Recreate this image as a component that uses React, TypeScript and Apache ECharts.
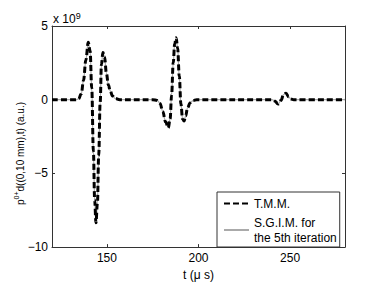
import React, { useEffect, useRef } from "react";
import * as echarts from "echarts";

// time in microseconds
const times = [
  120, 133, 134.5, 136, 137.2, 138.5, 139.8, 140.8, 141.7, 142.6, 143.3, 144, 144.8, 145.5, 146.3, 147, 147.8, 148.7, 149.7, 150.8, 151.8, 153, 154.5, 157,
  175, 177.5, 179, 180.5, 182, 183.5, 184.5, 185.3, 186.2, 187, 187.8, 188.6, 189.5, 190.4, 191.3, 192.1, 193, 194, 195.5, 197, 199,
  238, 240.2, 241.5, 243.5, 245, 246.5, 247.8, 249.2, 250.5, 252, 280,
];
// values in units of 1e9 (a.u.)
const tmmValues = [
  0, 0, 0.05, 0.4, 1.3, 2.7, 3.9, 3.3, 0.8, -3.5, -6.8, -8.35, -7.0, -3.8, -0.2, 2.4, 3.2, 2.9, 1.8, 1.0, 0.6, 0.25, 0.08, 0,
  0, -0.05, -0.25, -0.8, -1.5, -1.9, -1.3, 0.3, 2.5, 3.8, 4.2, 3.5, 1.6, -0.3, -1.3, -1.45, -1.1, -0.55, -0.2, -0.06, 0,
  0, 0, -0.08, -0.29, -0.05, 0.35, 0.44, 0.2, 0.04, 0, 0,
];
const sgimValues = [
  0, 0, 0.05, 0.4, 1.3, 2.7, 3.9, 3.3, 0.8, -3.5, -6.8, -8.35, -7.0, -3.8, -0.2, 2.4, 3.2, 2.9, 1.8, 1.0, 0.6, 0.25, 0.08, 0,
  0, -0.05, -0.25, -0.8, -1.5, -1.9, -1.3, 0.3, 2.5, 3.8, 4.2, 3.5, 1.6, -0.3, -1.3, -1.45, -1.1, -0.55, -0.2, -0.06, 0,
  0, 0, -0.08, -0.29, -0.05, 0.35, 0.44, 0.2, 0.04, 0, 0,
];
const xTicks = [150, 200, 250];
const seriesNames = ["T.M.M.", "S.G.I.M. for\nthe 5th iteration"];

const FONT = "'Liberation Sans', Arial, Helvetica, sans-serif";
const AXIS_COLOR = "#333";

export default function App() {
  const ref = useRef<HTMLDivElement>(null);
  useEffect(() => {
    if (!ref.current) return;
    const chart = echarts.init(ref.current, undefined, { renderer: "svg" });
    const tmm = times.map((t, i) => [t, tmmValues[i]]);
    const sgim = times.map((t, i) => [t, sgimValues[i]]);
    const axisLine = { show: true, onZero: false, lineStyle: { color: AXIS_COLOR, width: 1 } };
    const fmtMinus = (v: number) => String(v).replace("-", "\u2212");
    chart.setOption({
      animation: false,
      textStyle: { fontFamily: FONT },
      grid: { left: 52, top: 26, right: 37, bottom: 33 },
      xAxis: [
        {
          type: "value",
          min: 120,
          max: 280,
          axisLine,
          axisTick: { show: true, inside: true, length: 3, customValues: xTicks, lineStyle: { color: AXIS_COLOR } },
          axisLabel: { customValues: xTicks, color: "#000", fontSize: 12, margin: 5, fontFamily: FONT },
          splitLine: { show: false },
          name: "t (\u03bc s)",
          nameLocation: "middle",
          nameGap: 20,
          nameTextStyle: { color: "#000", fontSize: 12, fontFamily: FONT },
        },
        {
          type: "value",
          position: "top",
          min: 120,
          max: 280,
          axisLine,
          axisTick: { show: true, inside: true, length: 3, customValues: xTicks, lineStyle: { color: AXIS_COLOR } },
          axisLabel: { show: false },
          splitLine: { show: false },
        },
      ],
      yAxis: [
        {
          type: "value",
          min: -10,
          max: 5,
          interval: 5,
          axisLine,
          axisTick: { show: true, inside: true, length: 3, lineStyle: { color: AXIS_COLOR } },
          axisLabel: { color: "#000", fontSize: 12, margin: 4, fontFamily: FONT, formatter: fmtMinus },
          splitLine: { show: false },
        },
        {
          type: "value",
          position: "right",
          min: -10,
          max: 5,
          interval: 5,
          axisLine,
          axisTick: { show: true, inside: true, length: 3, lineStyle: { color: AXIS_COLOR } },
          axisLabel: { show: false },
          splitLine: { show: false },
        },
      ],
      legend: {
        data: seriesNames,
        orient: "vertical",
        left: 217,
        top: 192,
        padding: [4, 3, 2, 6],
        itemWidth: 25,
        itemHeight: 14,
        itemGap: 4,
        borderColor: AXIS_COLOR,
        borderWidth: 1,
        backgroundColor: "#fff",
        itemStyle: { opacity: 0, borderWidth: 0 },
        textStyle: { color: "#000", fontSize: 12, lineHeight: 15, fontFamily: FONT },
      },
      graphic: [
        {
          type: "text",
          left: 53,
          top: 11,
          style: {
            text: "{n|x 10}{sup|9}",
            rich: {
              n: { fontSize: 12, fontFamily: FONT, fill: "#000", verticalAlign: "bottom", lineHeight: 14 },
              sup: { fontSize: 9, fontFamily: FONT, fill: "#000", verticalAlign: "top", lineHeight: 9 },
            },
          },
        },
        {
          type: "text",
          x: 19,
          y: 205,
          rotation: Math.PI / 2,
          style: {
            text: "{n|p}{sup|0+}{n|d((0,10 mm),t) (a.u.)}",
            align: "left",
            verticalAlign: "middle",
            rich: {
              n: { fontSize: 10, fontFamily: FONT, fill: "#000", verticalAlign: "bottom", lineHeight: 13 },
              sup: { fontSize: 7, fontFamily: FONT, fill: "#000", verticalAlign: "top", lineHeight: 8 },
            },
          },
        },
      ],
      series: [
        {
          name: seriesNames[1],
          type: "line",
          data: sgim,
          symbol: "none",
          smooth: 0.4,
          smoothMonotone: "x",
          z: 2,
          lineStyle: { color: "#aaa", width: 1.2 },
          itemStyle: { color: "#aaa" },
        },
        {
          name: seriesNames[0],
          type: "line",
          data: tmm,
          symbol: "none",
          smooth: 0.4,
          smoothMonotone: "x",
          z: 3,
          lineStyle: { color: "#000", width: 3, type: [6, 3] },
          itemStyle: { color: "#000" },
        },
      ],
    });
    return () => chart.dispose();
  }, []);
  return <div ref={ref} style={{ width: 382, height: 286, position: "absolute", left: 0, top: 0 }} />;
}
